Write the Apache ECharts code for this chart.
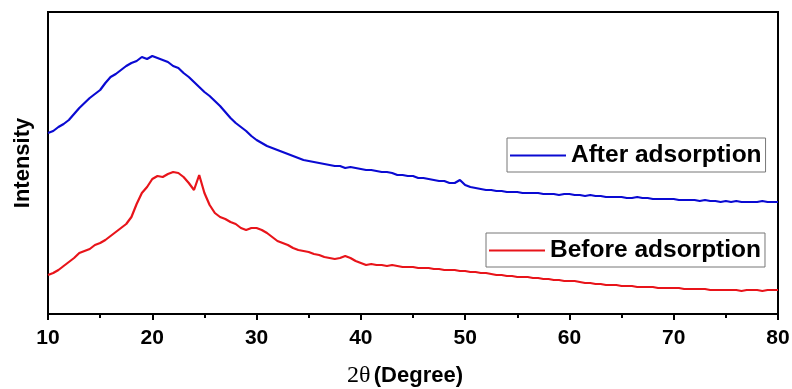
<!DOCTYPE html>
<html>
<head>
<meta charset="utf-8">
<script src="https://cdn.jsdelivr.net/npm/echarts@6/dist/echarts.min.js"></script>
<style>
html,body{margin:0;padding:0;background:#fff;}
#chart{width:792px;height:389px;}
</style>
</head>
<body>
<div id="chart"></div>
<script>
var twoTheta = [10,10.5,11,11.5,12,12.5,13,13.5,14,14.5,15,15.5,16,16.5,17,17.5,18,18.5,19,19.5,
20,20.5,21,21.5,22,22.5,23,23.5,24,24.5,25,25.5,26,26.5,27,27.5,28,28.5,29,29.5,
30,30.5,31,31.5,32,32.5,33,33.5,34,34.5,35,35.5,36,36.5,37,37.5,38,38.5,39,39.5,
40,40.5,41,41.5,42,42.5,43,43.5,44,44.5,45,45.5,46,46.5,47,47.5,48,48.5,49,49.5,
50,50.5,51,51.5,52,52.5,53,53.5,54,54.5,55,55.5,56,56.5,57,57.5,58,58.5,59,59.5,
60,60.5,61,61.5,62,62.5,63,63.5,64,64.5,65,65.5,66,66.5,67,67.5,68,68.5,69,69.5,
70,70.5,71,71.5,72,72.5,73,73.5,74,74.5,75,75.5,76,76.5,77,77.5,78,78.5,79,79.5,80];

var afterAdsorption = [181,183,187,190,194,200,206,211,216,220,224,231,237,240,244,248,251,253,257,255,
258,256,254,252,248,246,241,237,232,227,222,218,213,208,202,196,191,187,183,178,
174,171,168,166,164,162,160,158,156,154,153,152,151,150,149,148,148,146,147,146,
145,144,144,143,142,142,141,139,139,138,138,136,136,135,134,133,133,131,131,134,
129,127,126,125,124,124,123,123,122,122,122,121,121,121,121,120,120,120,119,120,
120,119,119,118,119,118,118,117,117,117,117,116,116,117,116,116,115,115,115,115,
115,114,114,114,114,113,114,113,113,112,113,112,113,112,112,112,112,113,112,112,112];

var beforeAdsorption = [39,41,44,48,52,56,61,63,65,69,71,74,78,82,86,90,97,110,121,127,
135,138,137,140,142,141,137,131,124,139,121,109,101,97,95,92,90,86,84,86,
86,84,81,77,73,71,69,66,64,63,62,60,59,57,56,55,56,58,56,53,
51,49,50,49,49,48,49,48,47,47,47,46,46,46,45,45,44,44,44,43,
43,42,42,41,41,40,39,39,38,38,37,37,37,36,36,35,35,34,34,33,
33,33,32,31,31,30,30,29,29,29,28,28,28,27,27,27,27,26,26,26,
26,26,25,25,25,25,25,24,24,24,24,24,24,23,24,24,24,23,24,24,24];

var xTicks = [10,20,30,40,50,60,70,80];
var seriesNames = ['After adsorption','Before adsorption'];

function pairs(xs, ys){ return xs.map(function(x,i){ return [x, ys[i]]; }); }

var chart = echarts.init(document.getElementById('chart'), null, {renderer:'canvas'});
var font = 'Liberation Sans, Arial, sans-serif';
var legendCommon = {
  orient:'horizontal',borderColor:'#777',borderWidth:1,padding:[5,4,4,3],
  icon:'rect',itemWidth:56,itemHeight:2,itemGap:0,
  textStyle:{color:'#000',fontSize:24.5,fontWeight:'bold',fontFamily:font}
};
chart.setOption({
  animation:false,
  backgroundColor:'#fff',
  grid:{left:48,right:14,top:12,bottom:75,show:true,borderColor:'#000',borderWidth:2,
        containLabel:false,outerBoundsMode:'none'},
  xAxis:{
    type:'value',min:xTicks[0],max:xTicks[xTicks.length-1],interval:10,
    axisLine:{show:true,lineStyle:{color:'#000',width:2}},
    axisTick:{show:true,inside:false,length:6,lineStyle:{color:'#000',width:2}},
    minorTick:{show:true,splitNumber:2,length:4,lineStyle:{color:'#000',width:2}},
    splitLine:{show:false},
    axisLabel:{color:'#000',fontSize:21,fontWeight:'bold',fontFamily:font,margin:14},
    name:'{s|2θ} {b|(Degree)}',nameLocation:'middle',nameGap:50,
    nameTextStyle:{padding:[0,16,0,0],rich:{
      s:{fontFamily:'Liberation Serif, Times New Roman, serif',fontSize:24,color:'#000'},
      b:{fontFamily:font,fontSize:22,fontWeight:'bold',color:'#000'}
    }}
  },
  yAxis:{
    type:'value',min:0,max:302,
    axisLine:{show:true,lineStyle:{color:'#000',width:2}},
    axisTick:{show:false},axisLabel:{show:false},splitLine:{show:false},
    name:'Intensity',nameLocation:'middle',nameGap:14,
    nameTextStyle:{color:'#000',fontSize:22,fontWeight:'bold',fontFamily:font}
  },
  legend:[
    Object.assign({data:[seriesNames[0]],left:507,top:138}, legendCommon),
    Object.assign({data:[seriesNames[1]],left:486,top:233}, legendCommon)
  ],
  series:[
    {name:seriesNames[0],type:'line',symbol:'none',data:pairs(twoTheta,afterAdsorption),
     lineStyle:{color:'#0a0ad2',width:2.2},itemStyle:{color:'#0a0ad2'}},
    {name:seriesNames[1],type:'line',symbol:'none',data:pairs(twoTheta,beforeAdsorption),
     lineStyle:{color:'#e8141a',width:2.2},itemStyle:{color:'#e8141a'}}
  ]
});
</script>
</body>
</html>
